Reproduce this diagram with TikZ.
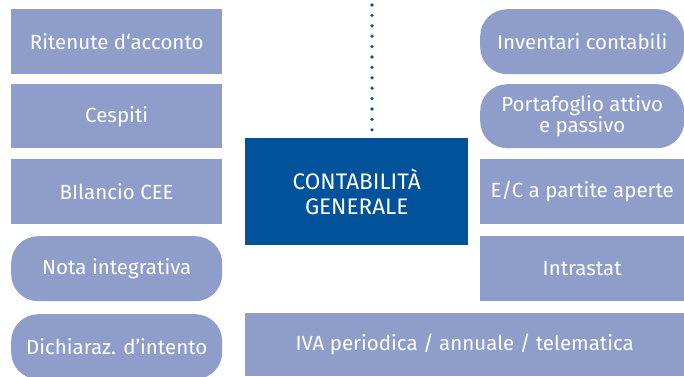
\documentclass[tikz,border=0pt]{standalone}
\usepackage{fontspec}
\setmainfont{Fira Sans}
\definecolor{lightbox}{HTML}{8E9DC9}
\definecolor{darkbox}{HTML}{00529B}
\begin{document}
\begin{tikzpicture}[x=1pt,y=-1pt,
  base/.style={anchor=north west, inner sep=0pt, text=white, align=center, font=\fontsize{20.5}{18}\selectfont},
  rect/.style={base, fill=lightbox},
  pill/.style={base, fill=lightbox, rounded corners=27pt},
  main/.style={base, fill=darkbox, font=\fontsize{22.5}{25.5}\selectfont},
  dotline/.style={darkbox, line width=3.6pt, line cap=round, dash pattern=on 0pt off 10.4pt}]
\useasboundingbox (0,0) rectangle (684,376);
% left column
\node[rect, minimum width=211pt, minimum height=65pt] (rit) at (11,9) {Ritenute d‘acconto};
\node[rect, minimum width=211pt, minimum height=64pt] (ces) at (11,84) {Cespiti};
\node[rect, minimum width=211pt, minimum height=65pt] (bil) at (11,159) {BIlancio CEE};
\node[pill, minimum width=211pt, minimum height=65pt] (nota) at (11,236) {Nota integrativa};
\node[pill, minimum width=211pt, minimum height=65pt] (dich) at (11,314) {Dichiaraz. d’intento};
% right column
\node[pill, minimum width=204pt, minimum height=65pt] (inv) at (480,9) {Inventari contabili};
\node[pill, minimum width=204pt, minimum height=64pt] (port) at (480,84) {Portafoglio attivo\\e passivo};
\node[rect, minimum width=204pt, minimum height=65pt] (ec) at (480,159) {E/C a partite aperte};
\node[rect, minimum width=204pt, minimum height=65pt] (intra) at (480,236) {Intrastat};
% bottom wide box
\node[rect, minimum width=439pt, minimum height=63pt] (iva) at (245,313) {IVA periodica / annuale / telematica};
% centre
\node[main, minimum width=223pt, minimum height=107pt] (cg) at (245,138) {CONTABILITÀ\\GENERALE};
\coordinate (top) at (372,5);
\draw[dotline] (top) -- ([yshift=-8pt]top |- cg.north);
\end{tikzpicture}
\end{document}
